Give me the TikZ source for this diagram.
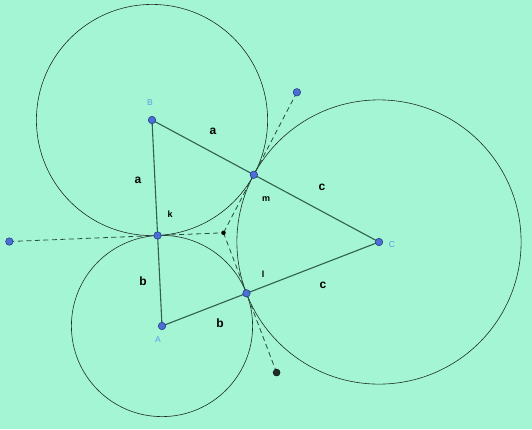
\documentclass[tikz,border=0pt]{standalone}
\usepackage{fontspec}
\setmainfont{Liberation Sans}
\usetikzlibrary{calc}
\definecolor{bg}{RGB}{163,245,212}
\definecolor{seg}{RGB}{50,95,80}
\definecolor{circ}{RGB}{30,45,40}
\definecolor{ptblue}{RGB}{75,110,215}
\definecolor{ptedge}{RGB}{30,50,120}
\definecolor{lblblue}{RGB}{100,150,235}
\begin{document}
\begin{tikzpicture}[x=1pt,y=-1pt,
  side/.style={draw=seg,line width=1.1pt},
  ring/.style={draw=circ,line width=0.6pt},
  tang/.style={draw=seg!80!black,line width=0.8pt,dash pattern=on 5pt off 3.5pt},
  pt/.style={circle,fill=ptblue,draw=ptedge,line width=0.5pt,inner sep=0pt,minimum size=7.5pt},
  darkpt/.style={circle,fill=circ,draw=black,line width=0.4pt,inner sep=0pt,minimum size=7pt},
  cen/.style={circle,fill=black,inner sep=0pt,minimum size=4.5pt},
  vlab/.style={text=lblblue,font=\fontsize{8.5}{10}\selectfont},
  slab/.style={font=\fontsize{12}{14}\selectfont\bfseries},
  tlab/.style={font=\fontsize{9}{11}\selectfont\bfseries}]
\fill[bg] (0,0) rectangle (532,429);
\useasboundingbox (0,0) rectangle (532,429);
\coordinate (A) at (162,326);
\coordinate (B) at (152,120);
\coordinate (C) at (379,242);
% radii ra=90.6, rb=115.6, rc=142.1
\draw[ring] (A) circle[radius=90.6];
\draw[ring] (B) circle[radius=115.6];
\draw[ring] (C) circle[radius=142.1];
\coordinate (Tab) at ($(B)!0.5606!(A)$);
\coordinate (Tbc) at ($(B)!0.4486!(C)$);
\coordinate (Tac) at ($(A)!0.3893!(C)$);
\coordinate (I) at (223.5,232.8);
\coordinate (P1) at ($(I)!3.25!(Tab)$);
\coordinate (P2) at ($(I)!2.42!(Tbc)$);
\coordinate (P3) at ($(I)!2.31!(Tac)$);
\draw[tang] (P1) -- (I);
\draw[tang] (P2) -- (I);
\draw[tang] (P3) -- (I);
\draw[side] (A) -- (B) -- (C) -- cycle;
\node[cen] (i) at (I) {};
\node[pt] (p1) at (P1) {};
\node[pt] (p2) at (P2) {};
\node[darkpt] (p3) at (P3) {};
\node[pt] (a) at (A) {};
\node[pt] (b) at (B) {};
\node[pt] (c) at (C) {};
\node[pt] (tab) at (Tab) {};
\node[pt] (tbc) at (Tbc) {};
\node[pt] (tac) at (Tac) {};
\node[vlab] (la) at (158,340) {A};
\node[vlab] (lb) at (150,103) {B};
\node[vlab] (lc) at (392,245) {C};
\node[slab] (s1) at (213,131) {a};
\node[slab] (s2) at (138,180) {a};
\node[slab] (s3) at (143,281) {b};
\node[slab] (s4) at (220,323) {b};
\node[slab] (s5) at (322,187) {c};
\node[slab] (s6) at (323,285) {c};
\node[tlab] (k) at (170,214) {k};
\node[tlab] (m) at (266,199) {m};
\node[tlab] (l) at (263,274) {l};
\end{tikzpicture}
\end{document}
